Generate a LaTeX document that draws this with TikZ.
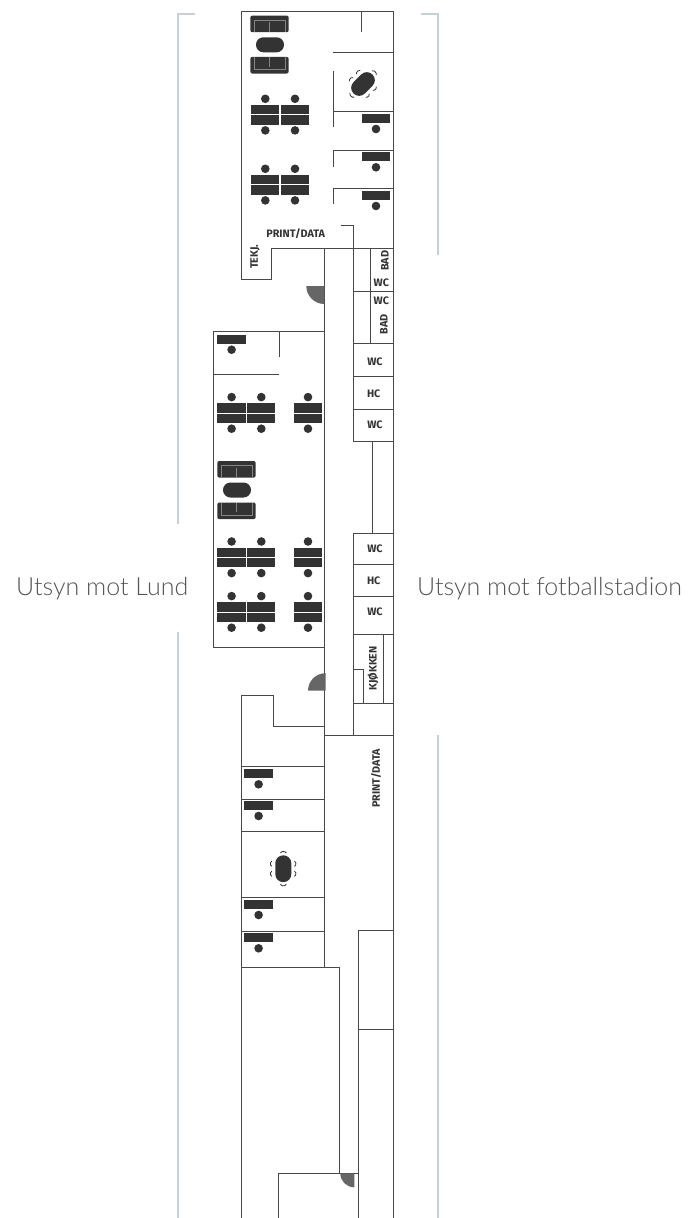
\documentclass[tikz,border=0pt]{standalone}
\usepackage{fontspec}
\newfontfamily\viewfont{Lato Light}
\newfontfamily\roomfont{Fira Sans}
\usetikzlibrary{positioning}
\definecolor{wallcol}{HTML}{484848}
\definecolor{furncol}{HTML}{333333}
\definecolor{doorcol}{HTML}{666666}
\definecolor{guidecol}{HTML}{C6D0DB}
\definecolor{viewcol}{HTML}{555555}
\newcommand{\onedesk}[2]{
\fill [furn] (#1,-#2) rectangle +(28.4,-9);
\fill [furn] (#1+14.3,-#2-15) circle (4.3);
}
\newcommand{\pairdesk}[2]{
\fill [furn] (#1,-#2) rectangle +(28.4,-9.4);
\fill [furn] (#1,-#2-10.2) rectangle +(28.4,-9.4);
\fill [furn] (#1+14.3,-#2+6.2) circle (4.3);
\fill [furn] (#1+14.3,-#2-25.4) circle (4.3);
}
\newcommand{\sofa}[3]{
\begin{scope}[shift={(#1,-#2)},yscale=#3]
\fill [furn,rounded corners=2] (-19.2,-8.3) rectangle (19.2,8.3);
\draw [sofaline] (-15.5,-8) -- (-15.5,4) -- (15.5,4) -- (15.5,-8);
\draw [sofaline] (0,-8) -- (0,1.5);
\end{scope}
}
\newcommand{\meeting}[3]{
\begin{scope}[shift={(#1,-#2)},rotate=#3]
\fill [furn,rounded corners=7.9] (-8,-13.4) rectangle (8,13.4);
\draw [chairarc] (-2.95,15.7) arc (150:30:3.4);
\draw [chairarc] (-2.95,-15.6) arc (-150:-30:3.4);
\draw [chairarc] (-11.5,7.6) arc (120:240:3);
\draw [chairarc] (-11.5,-2.4) arc (120:240:3);
\draw [chairarc] (11.2,7.6) arc (60:-60:3);
\draw [chairarc] (11.2,-2.4) arc (60:-60:3);
\end{scope}
}
\begin{document}
\begin{tikzpicture}[x=1pt,y=1pt,
  wall/.style={draw=wallcol,line width=1pt},
  furn/.style={fill=furncol},
  sofaline/.style={draw=white!40!furncol,line width=0.5pt},
  chairarc/.style={draw=furncol,line width=0.8pt},
  door/.style={fill=doorcol},
  guide/.style={draw=guidecol,line width=2pt},
  room/.style={font=\roomfont\bfseries\fontsize{10.8}{11}\selectfont,text=furncol},
  view/.style={font=\viewfont\fontsize{25}{27}\selectfont,text=viewcol}]
\tikzstyle{every node}+=[inner sep=0pt]
\useasboundingbox (0,0) rectangle (689,-1218);
% guide lines
\draw [guide] (195,-14) -- (178.3,-14) -- (178.3,-524);
\draw [guide] (178.3,-632) -- (178.3,-1218);
\draw [guide] (421,-14) -- (437.7,-14) -- (437.7,-255);
\draw [guide] (437.7,-735) -- (437.7,-1218);
% top part
\draw [wall] (271,-248.3) -- (271,-279.5) -- (241.5,-279.5) -- (241.5,-11) -- (393.3,-11) -- (393.3,-1218);
\draw [wall] (271,-248.3) -- (393.3,-248.3);
\draw [wall] (361,-11) -- (361,-32);
\draw [wall] (333.3,-52) -- (393.3,-52);
\draw [wall] (333.3,-71) -- (333.3,-127);
\draw [wall] (333.3,-111) -- (393.3,-111);
\draw [wall] (333.3,-167) -- (333.3,-150) -- (393.3,-150);
\draw [wall] (333.3,-204) -- (333.3,-188) -- (393.3,-188);
\draw [wall] (340.7,-225.7) -- (353.5,-225.7) -- (353.5,-441.7) -- (393.3,-441.7);
% corridor and left room
\draw [wall] (324.3,-248.3) -- (324.3,-967.7);
\draw [wall] (324.3,-331) -- (213.3,-331) -- (213.3,-647.7) -- (324.3,-647.7);
\draw [wall] (279,-331) -- (279,-356.7);
\draw [wall] (213.3,-374) -- (279,-374);
% wc blocks
\draw [wall] (370.3,-248.3) -- (370.3,-343.3);
\draw [wall] (353.5,-291.7) -- (393.3,-291.7);
\draw [wall] (353.5,-343.3) -- (393.3,-343.3);
\draw [wall] (353.5,-376.7) -- (393.3,-376.7);
\draw [wall] (353.5,-409) -- (393.3,-409);
\draw [wall] (372,-441.7) -- (372,-533.3);
\draw [wall] (393.3,-533.3) -- (353.5,-533.3) -- (353.5,-735);
\draw [wall] (353.5,-564) -- (393.3,-564);
\draw [wall] (353.5,-596) -- (393.3,-596);
\draw [wall] (353.5,-634.3) -- (393.3,-634.3);
\draw [wall] (383.7,-634.3) -- (383.7,-703.7);
\draw [wall] (353.5,-669) -- (363.3,-669) -- (363.3,-703.7);
\draw [wall] (353.5,-703.7) -- (393.3,-703.7);
\draw [wall] (324.3,-735) -- (393.3,-735);
% lower part
\draw [wall] (324.3,-726.7) -- (273.7,-726.7) -- (273.7,-695) -- (241.7,-695) -- (241.7,-1218);
\draw [wall] (241.7,-766.7) -- (324.3,-766.7);
\draw [wall] (241.7,-799.3) -- (324.3,-799.3);
\draw [wall] (241.7,-831) -- (324.3,-831);
\draw [wall] (241.7,-897.7) -- (324.3,-897.7);
\draw [wall] (241.7,-931) -- (324.3,-931);
\draw [wall] (241.7,-967.7) -- (339,-967.7) -- (339,-1173.3);
\draw [wall] (278.7,-1218) -- (278.7,-1173.3) -- (358.3,-1173.3);
\draw [wall] (358.3,-1218) -- (358.3,-930) -- (393.3,-930);
\draw [wall] (358.3,-1029) -- (393.3,-1029);
% doors
\fill [door] (324.3,-286) -- (306.3,-286) arc (180:270:18) -- cycle;
\fill [door] (325.5,-690.7) -- (308,-690.7) arc (180:90:17.5) -- cycle;
\fill [door] (354.3,-1173.3) -- (340.3,-1173.3) arc (180:270:14) -- cycle;
% furniture
\sofa{269.5}{23.9}{1}
\fill [furn,rounded corners=7.4] (256,-37.3) rectangle (284,-52.3);
\sofa{269.5}{65.2}{-1}
\meeting{363}{84}{-45}
\pairdesk{251}{105}
\pairdesk{280.7}{105}
\pairdesk{251}{175}
\pairdesk{280.7}{175}
\onedesk{361.7}{114}
\onedesk{361.7}{152.3}
\onedesk{361.7}{191}
\onedesk{217.3}{334.7}
\pairdesk{217.3}{403.3}
\pairdesk{247}{403.3}
\pairdesk{293.7}{403.3}
\sofa{236.5}{469.3}{1}
\fill [furn,rounded corners=7.4] (223,-482.5) rectangle (251,-497.5);
\sofa{236.5}{510.8}{-1}
\pairdesk{217.3}{547.7}
\pairdesk{247}{547.7}
\pairdesk{293.7}{547.7}
\pairdesk{217.3}{602.3}
\pairdesk{247}{602.3}
\pairdesk{293.7}{602.3}
\onedesk{244.3}{769.3}
\onedesk{244.3}{801}
\meeting{283.3}{868.7}{0}
\onedesk{244.3}{900}
\onedesk{244.3}{933.3}
% room labels
\node [room] (printtop) at (295.7,-233.3) {PRINT/DATA};
\node [room,rotate=90] (tekj) at (255,-256.7) {TEKJ.};
\node [room,rotate=90] (badtop) at (385,-260.7) {BAD};
\node [room] (wca) at (381.3,-283) {WC};
\node [room] (wcb) at (381.3,-301) {WC};
\node [room,rotate=90] (badlow) at (384,-324.3) {BAD};
\node [room] (wcc) at (375,-362) {WC};
\node [room] (hca) at (373.7,-394) {HC};
\node [room] (wcd) at (375,-425) {WC};
\node [room] (wce) at (375,-549) {WC};
\node [room] (hcb) at (373.7,-581) {HC};
\node [room] (wcf) at (375,-611.7) {WC};
\node [room,rotate=90] (kitchen) at (373,-668.3) {KJØKKEN};
\node [room,rotate=90] (printlow) at (376,-778.3) {PRINT/DATA};
% view labels
\node [view,anchor=base west] (lund) at (16,-595) {Utsyn mot Lund};
\node [view,anchor=base west] (stadion) at (417,-595) {Utsyn mot fotballstadion};
\end{tikzpicture}
\end{document}
